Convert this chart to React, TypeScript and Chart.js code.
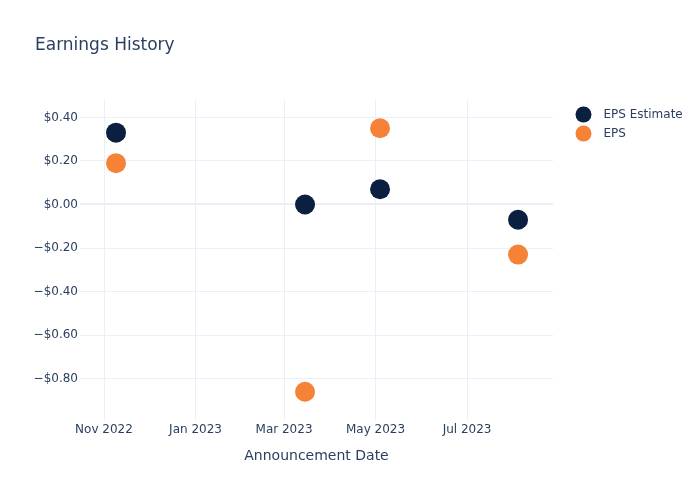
import React, { useEffect, useRef } from "react";
import { Chart, registerables } from "chart.js";

Chart.register(...registerables);

const announcementDates = ["2022-11-09", "2023-03-15", "2023-05-04", "2023-08-04"];
const epsEstimate = [0.33, 0.0, 0.07, -0.07];
const epsActual = [0.19, -0.86, 0.35, -0.23];

const xTickDates = ["2022-11-01", "2023-01-01", "2023-03-01", "2023-05-01", "2023-07-01"];
const xTickLabels = ["Nov 2022", "Jan 2023", "Mar 2023", "May 2023", "Jul 2023"];
const yTickValues = [0.4, 0.2, 0.0, -0.2, -0.4, -0.6, -0.8];

const X_MIN = "2022-10-16";
const X_MAX = "2023-08-27T07:00:00Z";
const Y_MIN = -0.99;
const Y_MAX = 0.48;

const NAVY = "#0b1f41";
const ORANGE = "#f68237";
const TEXT = "#2a3f5f";
const GRID = "#EBF0F8";
const FONT = "'DejaVu Sans', Verdana, sans-serif";

const t = (s: string) => Date.parse(s.length === 10 ? s + "T00:00:00Z" : s);

const fmtMoney = (v: number) => {
  const a = Math.abs(v).toFixed(2);
  return (v < -1e-9 ? "\u2212$" : "$") + a;
};

const overlay = {
  id: "overlay",
  afterDraw(chart: any) {
    const ctx = chart.ctx;
    ctx.save();
    ctx.fillStyle = TEXT;
    ctx.textBaseline = "middle";
    ctx.textAlign = "left";
    ctx.font = `17px ${FONT}`;
    ctx.fillText("Earnings History", 35, 46);
    const items = [
      { label: "EPS Estimate", color: NAVY, y: 114.5 },
      { label: "EPS", color: ORANGE, y: 133.5 },
    ];
    ctx.font = `12px ${FONT}`;
    for (const it of items) {
      ctx.beginPath();
      ctx.fillStyle = it.color;
      ctx.arc(583.5, it.y, 8, 0, Math.PI * 2);
      ctx.fill();
      ctx.fillStyle = TEXT;
      ctx.fillText(it.label, 603.5, it.y + 0.5);
    }
    ctx.restore();
  },
};

export default function App() {
  const ref = useRef<HTMLCanvasElement>(null);
  useEffect(() => {
    if (!ref.current) return;
    const chart = new Chart(ref.current, {
      type: "scatter",
      data: {
        datasets: [
          {
            label: "EPS Estimate",
            data: announcementDates.map((d, i) => ({ x: t(d), y: epsEstimate[i] })),
            backgroundColor: NAVY,
            borderColor: NAVY,
            borderWidth: 0,
            pointRadius: 10,
            pointHoverRadius: 10,
          },
          {
            label: "EPS",
            data: announcementDates.map((d, i) => ({ x: t(d), y: epsActual[i] })),
            backgroundColor: ORANGE,
            borderColor: ORANGE,
            borderWidth: 0,
            pointRadius: 10,
            pointHoverRadius: 10,
          },
        ],
      },
      options: {
        responsive: false,
        animation: false,
        devicePixelRatio: 1,
        layout: { padding: { left: 0, right: 147, top: 100, bottom: 0 } },
        plugins: {
          legend: { display: false },
          title: { display: false },
          tooltip: { enabled: false },
        },
        scales: {
          x: {
            type: "linear",
            min: t(X_MIN),
            max: t(X_MAX),
            afterBuildTicks: (scale: any) => {
              scale.ticks = xTickDates.map((d) => ({ value: t(d) }));
            },
            afterFit: (scale: any) => {
              scale.height = 80;
            },
            grid: { color: GRID, lineWidth: 1, drawTicks: false },
            border: { display: false },
            ticks: {
              padding: 3,
              color: TEXT,
              font: { family: FONT, size: 12 },
              maxRotation: 0,
              autoSkip: false,
              callback: (v: any) => {
                const i = xTickDates.findIndex((d) => t(d) === v);
                return i >= 0 ? xTickLabels[i] : "";
              },
            },
            title: {
              display: true,
              text: "Announcement Date",
              color: TEXT,
              font: { family: FONT, size: 14 },
              padding: { top: 0, bottom: 35 },
            },
          },
          y: {
            type: "linear",
            min: Y_MIN,
            max: Y_MAX,
            afterBuildTicks: (scale: any) => {
              scale.ticks = yTickValues.map((v) => ({ value: v }));
            },
            afterFit: (scale: any) => {
              scale.width = 80;
            },
            grid: {
              color: GRID,
              lineWidth: (c: any) => (c.tick && Math.abs(c.tick.value) < 1e-9 ? 2 : 1),
              drawTicks: false,
            },
            border: { display: false },
            ticks: {
              padding: 2,
              color: TEXT,
              font: { family: FONT, size: 12 },
              autoSkip: false,
              callback: (v: any) => fmtMoney(Number(v)),
            },
          },
        },
      },
      plugins: [overlay],
    } as any);
    return () => chart.destroy();
  }, []);
  return (
    <div style={{ position: "fixed", left: 0, top: 0, width: 700, height: 500, background: "#fff" }}>
      <canvas ref={ref} width={700} height={500} style={{ width: 700, height: 500 }} />
    </div>
  );
}
